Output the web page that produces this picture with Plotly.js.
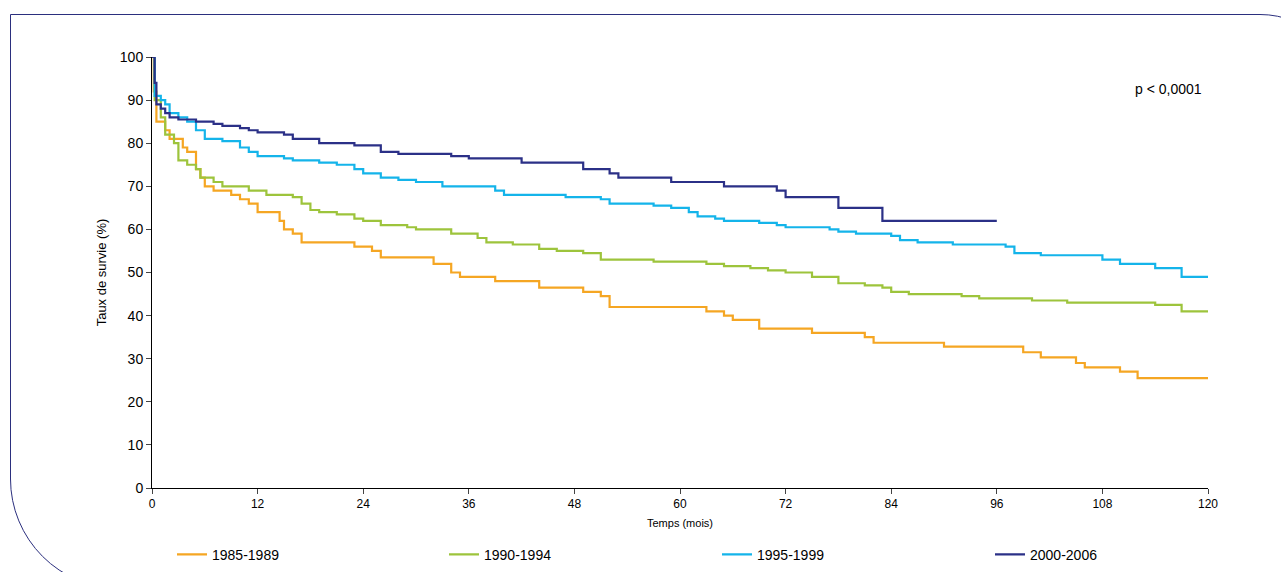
<!DOCTYPE html>
<html><head><meta charset="utf-8">
<script src="https://cdn.plot.ly/plotly-3.0.1.min.js"></script>
<style>
body{margin:0;overflow:hidden;background:#fff;}
#frame{position:absolute;left:10px;top:14px;width:1340px;height:575px;border:1.5px solid #2b2f7e;border-radius:0 90px 0 110px;box-sizing:border-box;}
#chart{position:absolute;left:0;top:0;width:1281px;height:572px;}
</style></head><body>
<div id="frame"></div>
<div id="chart"></div>
<script>
const names = ["1985-1989","1990-1994","1995-1999","2000-2006"];
const colors = ["#f5a623","#9dc43c","#14b4ea","#2b3087"];
const m85 = [0,0.2,0.5,1.5,2,3.5,4,5,5.5,6,7,9,10,11,12,14.5,15,16,17,23,25,26,32,34,35,39,44,49,51,52,63,65,66,69,75,81,82,90,99,101,105,106,110,112,120];
const s85 = [100,92,85,83,81,79,78,74,72,70,69,68,67,66,64,62,60,59,57,56,55,53.5,52,50,49,48,46.5,45.5,44.5,42,41,40,39,37,36,35,33.7,32.8,31.5,30.3,29,28,27,25.5,25.5];
const m90 = [0,0.3,1,1.5,2.5,3,4,5,5.5,7,8,11,13,16,17,18,19,21,23,24,26,29,30,34,37,38,41,44,46,49,51,57,63,65,68,70,72,75,78,81,83,84,86,92,94,100,104,114,117,120];
const s90 = [100,90,86,82,80,76,75,74,72,71,70,69,68,67.5,66,64.5,64,63.5,62.5,62,61,60.5,60,59,58,57,56.5,55.5,55,54.5,53,52.5,52,51.5,51,50.5,50,49,47.5,47,46.5,45.5,45,44.5,44,43.5,43,42.5,41,41];
const m95 = [0,0.3,1,1.5,2,3,4,5,6,8,10,11,12,15,16,19,21,23,24,26,28,30,33,39,40,47,51,52,57,59,61,62,64,65,69,71,72,77,78,80,84,85,87,91,97,98,101,108,110,114,117,120];
const s95 = [100,91,90,89,87,86,85,83,81,80.5,79,78,77,76.5,76,75.5,75,74,73,72,71.5,71,70,69,68,67.5,67,66,65.5,65,64,63,62.5,62,61.5,61,60.5,60,59.5,59,58.5,57.5,57,56.5,56,54.5,54,53,52,51,49,49];
const m00 = [0,0.3,0.5,1,1.5,2,3,5,7,8,10,11,12,15,16,19,23,26,28,34,36,42,49,52,53,59,65,71,72,78,83,96];
const s00 = [100,94,89,88,87,86,85.5,85,84.5,84,83.5,83,82.5,82,81,80,79.5,78,77.5,77,76.5,75.5,74,73,72,71,70,69,67.5,65,62,62];
const xs = [m85,m90,m95,m00], ys = [s85,s90,s95,s00];
const legendKeys = ["legend","legend2","legend3","legend4"];
const traces = names.map((n,i)=>({type:"scatter",mode:"lines",name:n,x:xs[i],y:ys[i],
  legend:legendKeys[i],line:{shape:"hv",color:colors[i],width:2.2}}));
const legendX = [172,444,717,990];
const layout = {
  width:1281,height:572,paper_bgcolor:"rgba(0,0,0,0)",plot_bgcolor:"rgba(0,0,0,0)",
  margin:{l:152,r:73,t:57,b:84,autoexpand:false},
  font:{family:"Liberation Sans, Arial, sans-serif",color:"#000",size:14},
  showlegend:true,
  xaxis:{range:[0,120],tickvals:[0,12,24,36,48,60,72,84,96,108,120],ticks:"outside",ticklen:5,
    showgrid:false,zeroline:false,showline:true,linecolor:"#000",linewidth:1,tickfont:{size:12},
    title:{text:"Temps (mois)",font:{size:11},standoff:8}},
  yaxis:{range:[0,100],dtick:10,ticks:"outside",ticklen:5,showgrid:false,zeroline:false,
    showline:true,linecolor:"#000",linewidth:1,tickfont:{size:14},
    title:{text:"Taux de survie (%)",font:{size:13},standoff:10}},
  annotations:[{xref:"paper",yref:"paper",x:0.996,y:0.95,xanchor:"right",showarrow:false,
    text:"p < 0,0001",font:{size:14}}]
};
legendKeys.forEach((k,i)=>{
  layout[k] = {xref:"container",yref:"container",x:legendX[i]/1281,xanchor:"left",orientation:"h",
    y:0.03,yanchor:"middle",font:{size:14},bgcolor:"rgba(0,0,0,0)"};
});
Plotly.newPlot("chart",traces,layout,{displayModeBar:false});
</script></body></html>
